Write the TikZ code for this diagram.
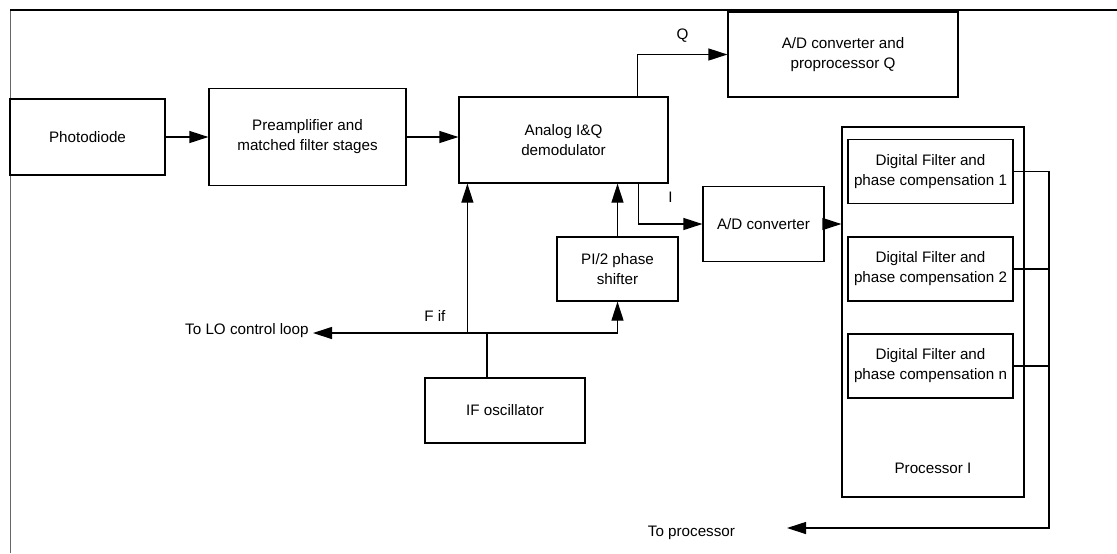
\documentclass[tikz,border=0pt]{standalone}
\usepackage{fontspec}
\setmainfont{Liberation Sans}
\usetikzlibrary{arrows.meta, positioning, calc}

\begin{document}
\begin{tikzpicture}[x=0.5pt, y=-0.5pt, every node/.style={font=\fontsize{7.6}{10}\selectfont},
  blk/.style={draw, line width=0.6pt, align=center, inner sep=1pt},
  arr/.style={-{Triangle[length=9.5pt,width=6pt]}, line width=0.6pt}]
  \useasboundingbox (0,0) rectangle (1117,553);
  \draw[line width=0.5pt, black!60] (10,553) -- (10,10);
  \draw[line width=1pt] (10,10) -- (1117,10);
  \node[blk, minimum width=77.5pt, minimum height=38pt] (photo) at (87.5,137) {Photodiode};
  \node[blk, minimum width=98.5pt, minimum height=48.5pt] (preamp) at (307.5,137) {Preamplifier and\\matched filter stages};
  \node[blk, minimum width=104.5pt, minimum height=43pt] (demod) at (563.5,140) {Analog I\&Q\\demodulator};
  \node[blk, minimum width=115pt, minimum height=42.5pt] (adq) at (843,54.5) {A/D converter and\\proprocessor Q};
  \node[blk, minimum width=60.5pt, minimum height=37.5pt] (adc) at (763.5,224) {A/D converter};
  \node[blk, minimum width=60.5pt, minimum height=32pt] (shift) at (617.5,269) {PI/2 phase\\shifter};
  \node[blk, minimum width=80pt, minimum height=32.5pt] (ifosc) at (505,410.5) {IF oscillator};
  \node[blk, minimum width=91pt, minimum height=185pt] (proc) at (933,312) {};
  \node (proclab) at (933,468) {Processor I};
  \foreach \k/\yy in {1/171.5, 2/269, n/366}
    \node[blk, minimum width=82.5pt, minimum height=32pt] (df\k) at (930.5,\yy) {Digital Filter and\\phase compensation \k};
  \coordinate (jn) at (487,333);
  \coordinate (lo) at (313,333);
  \coordinate (fiftap) at ([xshift=4.5pt]demod.south west);
  \coordinate (bus) at (1049,528);
  \coordinate (procout) at (787,528);
  \node[anchor=east] (toproc) at (742,533) {To processor};
  \draw[arr] (photo.east) -- (preamp.west);
  \draw[arr] (preamp.east) -- (preamp.east -| demod.west);
  \draw[arr] ([xshift=-15.5pt]demod.north east) |- (adq.west) node[pos=0.75, above=2.5pt] {Q};
  \draw[arr] ([xshift=-15pt]demod.south east) |- (adc.west) node[pos=0.75, above=7pt] {I};
  \draw[arr] (adc.east) -- (adc.east -| proc.west);
  \draw[arr] (shift.north) -- (shift.north |- demod.south);
  \draw[line width=0.6pt] ([xshift=-9pt]ifosc.north) -- (jn);
  \draw[arr] (jn) -- (lo) node[pos=0.3, above=2pt] {F if};
  \node[anchor=east, inner sep=2pt] (lolab) at ([yshift=1pt]lo) {To LO control loop};
  \draw[arr] (jn) -| (shift.south);
  \draw[arr] (fiftap |- jn) -- (fiftap);
  \draw[arr] (df1.east) -| (bus) -- (procout);
  \draw[line width=0.6pt] (df2.east) -- (df2.east -| bus);
  \draw[line width=0.6pt] (dfn.east) -- (dfn.east -| bus);
\end{tikzpicture}
\end{document}
